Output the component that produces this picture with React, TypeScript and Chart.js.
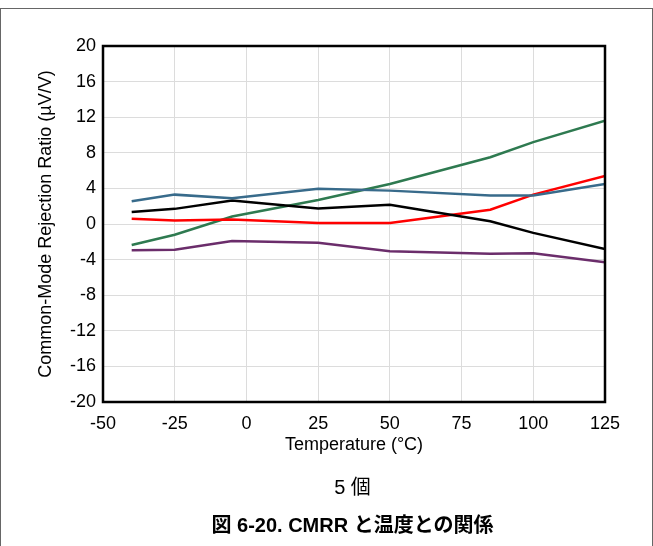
import React, { useEffect, useRef } from "react";
import { Chart, registerables } from "chart.js";

Chart.register(...registerables);

const temps = [-40, -25, -5, 25, 50, 85, 100, 125];
const blueSeries = [2.55, 3.3, 2.9, 3.95, 3.75, 3.2, 3.2, 4.5];
const blackSeries = [1.35, 1.7, 2.65, 1.75, 2.15, 0.3, -1.0, -2.8];
const redSeries = [0.6, 0.4, 0.5, 0.1, 0.1, 1.6, 3.3, 5.4];
const greenSeries = [-2.35, -1.2, 0.85, 2.7, 4.5, 7.5, 9.2, 11.6];
const purpleSeries = [-2.95, -2.9, -1.9, -2.1, -3.05, -3.35, -3.3, -4.3];
const seriesColors = ["#386b8b", "#000000", "#ff0000", "#2e7a50", "#6b2d6b"];
const xTitle = "Temperature (°C)";
const yTitle = "Common-Mode Rejection Ratio (µV/V)";
const subLabel = "5 個";
const caption = "図 6-20. CMRR と温度との関係";

const FONT = "'Liberation Sans', Arial, 'Noto Sans CJK JP', sans-serif";

export default function App() {
  const ref = useRef<HTMLCanvasElement | null>(null);

  useEffect(() => {
    if (!ref.current) return;
    const all = [blueSeries, blackSeries, redSeries, greenSeries, purpleSeries];
    const boxPlugin = {
      id: "box",
      afterDraw(chart: any) {
        const { ctx, chartArea } = chart;
        ctx.save();
        ctx.strokeStyle = "#000";
        ctx.lineWidth = 2.5;
        ctx.strokeRect(
          chartArea.left,
          chartArea.top,
          chartArea.right - chartArea.left,
          chartArea.bottom - chartArea.top
        );
        ctx.restore();
      },
    };
    const chart = new Chart(ref.current, {
      type: "line",
      data: {
        datasets: all.map((s, i) => ({
          data: temps.map((t, j) => ({ x: t, y: s[j] })),
          borderColor: seriesColors[i],
          backgroundColor: seriesColors[i],
          borderWidth: 2.5,
          pointRadius: 0,
          tension: 0,
          fill: false,
        })),
      },
      options: {
        animation: false,
        responsive: false,
        layout: { padding: { left: 0, right: 48, top: 46, bottom: 84 } },
        plugins: { legend: { display: false }, tooltip: { enabled: false } },
        scales: {
          x: {
            type: "linear",
            min: -50,
            max: 125,
            afterFit: (s: any) => {
              s.height = 60;
            },
            ticks: {
              stepSize: 25,
              color: "#000",
              padding: 11,
              font: { family: FONT, size: 18 },
            },
            grid: { color: "#dcdcdc", lineWidth: 1, drawTicks: false },
            border: { display: false },
            title: {
              display: true,
              text: xTitle,
              color: "#000",
              font: { family: FONT, size: 18 },
              padding: { top: 0, bottom: 6 },
            },
          },
          y: {
            min: -20,
            max: 20,
            afterFit: (s: any) => {
              s.width = 103;
            },
            ticks: {
              stepSize: 4,
              color: "#000",
              padding: 7,
              font: { family: FONT, size: 18 },
            },
            grid: { color: "#dcdcdc", lineWidth: 1, drawTicks: false },
            border: { display: false },
            title: {
              display: true,
              text: yTitle,
              color: "#000",
              font: { family: FONT, size: 18 },
              padding: { top: 35, bottom: 0 },
            },
          },
        },
      },
      plugins: [boxPlugin],
    });
    return () => chart.destroy();
  }, []);

  return (
    <div
      style={{
        position: "fixed",
        left: 0,
        top: 0,
        width: 653,
        height: 546,
        background: "#fff",
        overflow: "hidden",
      }}
    >
      <div style={{ position: "absolute", left: 0, top: 8, width: 653, height: 1, background: "#666" }} />
      <div style={{ position: "absolute", left: 0, top: 8, width: 1, height: 538, background: "#666" }} />
      <div style={{ position: "absolute", left: 652, top: 8, width: 1, height: 538, background: "#666" }} />
      <canvas ref={ref} width={653} height={546} style={{ position: "absolute", left: 0, top: 0 }} />
      <div
        style={{
          position: "absolute",
          left: 0,
          width: 705,
          top: 474,
          textAlign: "center",
          fontFamily: FONT,
          fontSize: 20,
          lineHeight: "26px",
          color: "#000",
        }}
      >
        {subLabel}
      </div>
      <div
        style={{
          position: "absolute",
          left: 0,
          width: 705,
          top: 511,
          textAlign: "center",
          fontFamily: FONT,
          fontWeight: "bold",
          fontSize: 20,
          lineHeight: "28px",
          color: "#000",
        }}
      >
        {caption}
      </div>
    </div>
  );
}
